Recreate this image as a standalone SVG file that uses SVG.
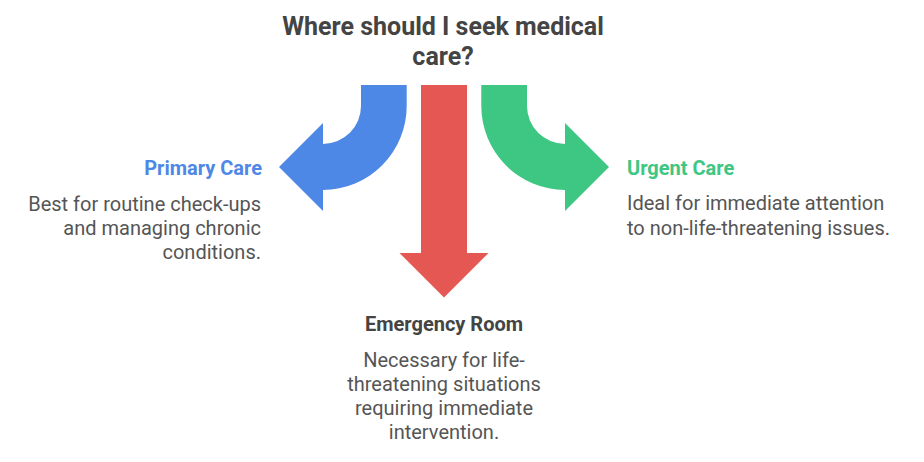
<svg xmlns="http://www.w3.org/2000/svg" width="924" height="462" viewBox="0 0 924 462">
<style>
text{font-family:Roboto,"Liberation Sans",sans-serif}
.title{font-size:25px;font-weight:700;fill:#444;text-anchor:middle}
.head{font-size:20px;font-weight:700}
.body{font-size:20px;fill:#555}
</style>
<rect width="924" height="462" fill="#fff"/>
<g id="connectors">
<path id="arrow-primary" fill="#4E88E6" d="M361,85 L406.7,85 L406.7,106 A84,84 0 0 1 323,190 L323,211 L279,167 L323,123 L323,144 A38,38 0 0 0 361,106 Z"/>
<path id="arrow-emergency" fill="#E55753" d="M421,85 L467,85 L467,253 L488.5,253 L444,297.5 L399.5,253 L421,253 Z"/>
<path id="arrow-urgent" fill="#3EC683" d="M527,85 L481.3,85 L481.3,106 A84,84 0 0 0 565,190 L565,211 L609,167 L565,123 L565,144 A38,38 0 0 1 527,106 Z"/>
</g>
<g id="question">
<text class="title" x="443" y="35">Where should I seek medical</text>
<text class="title" x="443" y="65">care?</text>
</g>
<g id="primary-care">
<text class="head" x="262" y="175" text-anchor="end" fill="#4E88E6">Primary Care</text>
<text class="body" text-anchor="end"><tspan x="261" y="211">Best for routine check-ups</tspan><tspan x="261" y="235">and managing chronic</tspan><tspan x="261" y="259">conditions.</tspan></text>
</g>
<g id="urgent-care">
<text class="head" x="627" y="174.5" fill="#3EC683">Urgent Care</text>
<text class="body"><tspan x="627" y="210">Ideal for immediate attention</tspan><tspan x="627" y="234.5">to non-life-threatening issues.</tspan></text>
</g>
<g id="emergency-room">
<text class="head" x="444" y="331" text-anchor="middle" fill="#444">Emergency Room</text>
<text class="body" text-anchor="middle"><tspan x="444" y="367">Necessary for life-</tspan><tspan x="444" y="391">threatening situations</tspan><tspan x="444" y="415">requiring immediate</tspan><tspan x="444" y="438.5">intervention.</tspan></text>
</g>
</svg>
